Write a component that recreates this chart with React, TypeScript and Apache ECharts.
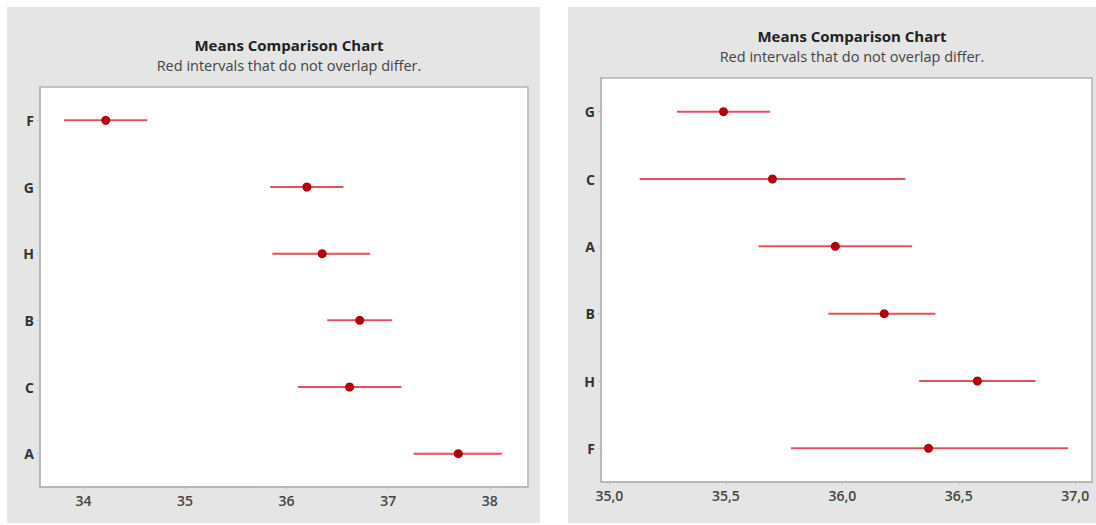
import React, { useEffect, useRef } from "react";
import * as echarts from "echarts";

const leftCategories = ["F", "G", "H", "B", "C", "A"];
const leftMeans = [34.22, 36.2, 36.35, 36.72, 36.62, 37.69];
const leftLow = [33.81, 35.84, 35.86, 36.4, 36.11, 37.25];
const leftHigh = [34.63, 36.56, 36.82, 37.04, 37.13, 38.12];
const leftTicks = [34, 35, 36, 37, 38];

const rightCategories = ["G", "C", "A", "B", "H", "F"];
const rightMeans = [35.49, 35.7, 35.97, 36.18, 36.58, 36.37];
const rightLow = [35.29, 35.13, 35.64, 35.94, 36.33, 35.78];
const rightHigh = [35.69, 36.27, 36.3, 36.4, 36.83, 36.97];
const rightTicks = [35.0, 35.5, 36.0, 36.5, 37.0];

const titleText = "Means Comparison Chart";
const subText = "Red intervals that do not overlap differ.";

const FONT = "'Open Sans', 'Noto Sans', sans-serif";
const LINE_RED = "#e0505e";
const DOT_RED = "#b0000c";
const BORDER = "#b4b4b4";

function intervalSeries(idx: number, low: number[], high: number[]) {
  return {
    type: "custom",
    xAxisIndex: idx,
    yAxisIndex: idx,
    encode: { x: [0, 1], y: 2 },
    data: low.map((l, i) => [l, high[i], i]),
    renderItem: (params: any, api: any) => {
      const a = api.coord([api.value(0), api.value(2)]);
      const b = api.coord([api.value(1), api.value(2)]);
      return {
        type: "line",
        shape: { x1: a[0], y1: a[1], x2: b[0], y2: b[1] },
        style: { stroke: LINE_RED, lineWidth: 2 },
      };
    },
    z: 2,
  };
}

function meanSeries(idx: number, means: number[]) {
  return {
    type: "scatter",
    xAxisIndex: idx,
    yAxisIndex: idx,
    data: means.map((m, i) => [m, i]),
    symbol: "circle",
    symbolSize: 9,
    itemStyle: { color: DOT_RED, opacity: 1 },
    z: 3,
  };
}

function makeYAxis(idx: number, cats: string[]) {
  return {
    type: "category",
    gridIndex: idx,
    data: cats,
    inverse: true,
    axisLine: { show: true, lineStyle: { color: BORDER, width: 1.5 } },
    axisTick: { show: true, alignWithLabel: true, length: 3, lineStyle: { color: "#b8c8d8" } },
    axisLabel: { color: "#333", fontSize: 14, fontWeight: "bold", fontFamily: FONT, margin: 6 },
    splitLine: { show: false },
  };
}

function makeXAxis(idx: number, min: number, max: number, ticks: number[], fmt: (v: number) => string) {
  return {
    type: "value",
    gridIndex: idx,
    min,
    max,
    axisLine: { show: true, onZero: false, lineStyle: { color: BORDER, width: 1.5 } },
    axisTick: { show: true, length: 3, customValues: ticks, lineStyle: { color: "#b8c8d8" } },
    axisLabel: {
      color: "#444",
      fontSize: 14,
      fontWeight: 600,
      fontFamily: FONT,
      margin: 6,
      customValues: ticks,
      formatter: (v: number) => fmt(v),
    },
    splitLine: { show: false },
  };
}

export default function App() {
  const ref = useRef<HTMLDivElement>(null);
  useEffect(() => {
    if (!ref.current) return;
    const chart = echarts.init(ref.current, null, { renderer: "svg" });
    const titleStyle = { fontSize: 15, fontWeight: "bold", color: "#222", fontFamily: FONT };
    const subStyle = { fontSize: 14.5, fontWeight: "normal", color: "#444", fontFamily: FONT };
    chart.setOption({
      animation: false,
      backgroundColor: "#ffffff",
      graphic: [
        { type: "rect", shape: { x: 7, y: 7, width: 533, height: 516 }, style: { fill: "#e5e5e5" }, z: -10 },
        { type: "rect", shape: { x: 568, y: 7, width: 528, height: 516 }, style: { fill: "#e5e5e5" }, z: -10 },
      ],
      title: [
        { text: titleText, left: 284, top: 32, textAlign: "center", textStyle: titleStyle },
        { text: subText, left: 284, top: 53, textAlign: "center", textStyle: subStyle },
        { text: titleText, left: 847, top: 23, textAlign: "center", textStyle: titleStyle },
        { text: subText, left: 847, top: 44, textAlign: "center", textStyle: subStyle },
      ],
      grid: [
        { left: 40, top: 87, width: 488, height: 400, show: true, backgroundColor: "#ffffff", borderColor: BORDER, borderWidth: 1.5 },
        { left: 601, top: 78, width: 491, height: 404, show: true, backgroundColor: "#ffffff", borderColor: BORDER, borderWidth: 1.5 },
      ],
      xAxis: [
        makeXAxis(0, 33.573, 38.376, leftTicks, (v) => String(Math.round(v))),
        makeXAxis(1, 34.964, 37.072, rightTicks, (v) => v.toFixed(1).replace(".", ",")),
      ],
      yAxis: [makeYAxis(0, leftCategories), makeYAxis(1, rightCategories)],
      series: [
        intervalSeries(0, leftLow, leftHigh),
        meanSeries(0, leftMeans),
        intervalSeries(1, rightLow, rightHigh),
        meanSeries(1, rightMeans),
      ],
    });
    return () => chart.dispose();
  }, []);
  return (
    <div
      ref={ref}
      style={{ position: "fixed", left: 0, top: 0, width: 1096, height: 525 }}
    />
  );
}
